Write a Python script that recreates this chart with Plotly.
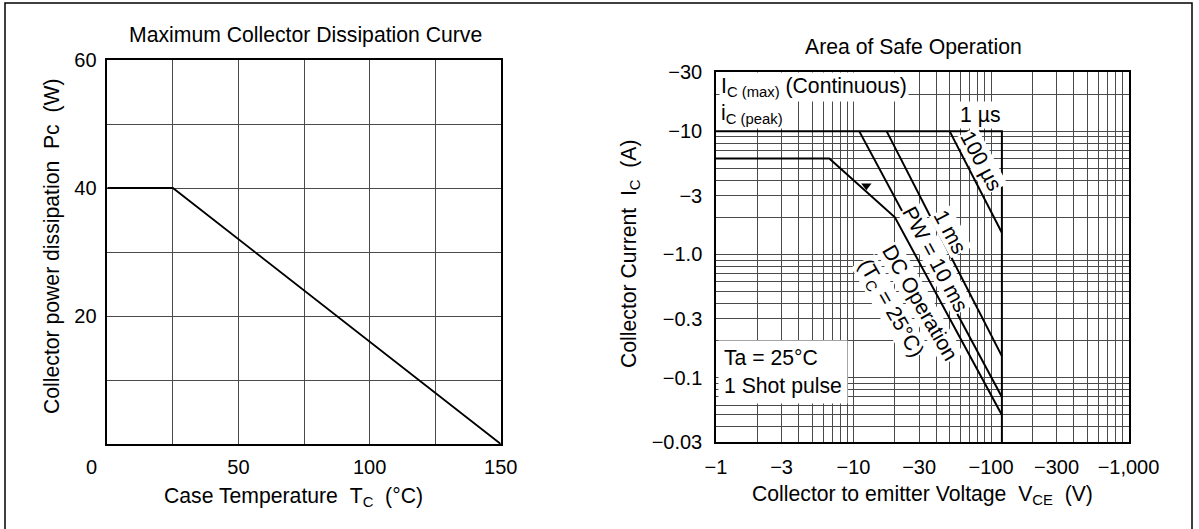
import plotly.graph_objects as go

W, H = 1199, 529
FONT = "Liberation Sans, Arial, Helvetica, sans-serif"

# ---------------- data ----------------
# Left chart: Maximum Collector Dissipation Curve
case_temp = [0, 25, 150]          # Tc (°C)
power_diss = [40, 40, 0]          # Pc (W)

left_x_ticks = [0, 25, 50, 75, 100, 125, 150]
left_x_labels = ["", "", "50", "", "100", "", "150"]
left_y_ticks = [0, 10, 20, 30, 40, 50, 60]
left_y_labels = ["", "", "20", "", "40", "", "60"]

# Right chart: Area of Safe Operation (magnitudes; sign shown in labels)
dc_v = [1, 6.67, 20, 120]
dc_i = [6, 6, 2, 0.05]
pw10ms_v = [11, 120]
pw10ms_i = [10, 0.07]
pw1ms_v = [17.4, 120]
pw1ms_i = [10, 0.15]
pw100us_v = [50, 120]
pw100us_i = [10, 1.5]
pw1us_v = [1, 120, 120]
pw1us_i = [10, 10, 0.03]
arrow_v = [12.4]
arrow_i = [3.6]

right_x_ticks = [1, 2, 3, 4, 5, 6, 7, 8, 9,
                 10, 20, 30, 40, 50, 60, 70, 80, 90,
                 100, 200, 300, 400, 500, 600, 700, 800, 900, 1000]
right_x_labels = ["−1", "", "−3", "", "", "", "", "", "",
                  "−10", "", "−30", "", "", "", "", "", "",
                  "−100", "", "−300", "", "", "", "", "", "", "−1,000"]
right_y_ticks = [0.03, 0.04, 0.05, 0.06, 0.07, 0.08, 0.09,
                 0.1, 0.2, 0.3, 0.4, 0.5, 0.6, 0.7, 0.8, 0.9,
                 1, 2, 3, 4, 5, 6, 7, 8, 9,
                 10, 20, 30]
right_y_labels = ["−0.03", "", "", "", "", "", "",
                  "−0.1", "", "−0.3", "", "", "", "", "", "",
                  "−1.0", "", "−3", "", "", "", "", "", "",
                  "−10", "", "−30"]


def px(x):
    return x / W


def py(y):
    return 1 - y / H


fig = go.Figure()

line_style = dict(color="black", width=2)

fig.add_trace(go.Scatter(x=case_temp, y=power_diss, mode="lines",
                         line=dict(color="black", width=1.8),
                         xaxis="x", yaxis="y", showlegend=False))

for xs, ys in [(pw1us_v, pw1us_i), (dc_v, dc_i), (pw10ms_v, pw10ms_i),
               (pw1ms_v, pw1ms_i), (pw100us_v, pw100us_i)]:
    fig.add_trace(go.Scatter(x=xs, y=ys, mode="lines", line=line_style,
                             xaxis="x2", yaxis="y2", showlegend=False))

fig.add_trace(go.Scatter(x=arrow_v, y=arrow_i, mode="markers",
                         marker=dict(symbol="triangle-down", size=9, color="black"),
                         xaxis="x2", yaxis="y2", showlegend=False))

grid_col = "#4a4a4a"
axis_common = dict(showline=True, linecolor="black", linewidth=1.5, mirror=True,
                   showgrid=True, gridcolor=grid_col, gridwidth=1, zeroline=False,
                   automargin=False,
                   ticks="", tickfont=dict(family=FONT, size=20, color="black"))

fig.update_layout(
    width=W, height=H,
    margin=dict(l=0, r=0, t=0, b=0, autoexpand=False),
    paper_bgcolor="white", plot_bgcolor="white",
    font=dict(family=FONT, size=20, color="black"),
    xaxis=dict(domain=[px(107.3), px(500.7)], range=[0, 150],
               tickmode="array", tickvals=left_x_ticks, ticktext=left_x_labels,
               ticklabelstandoff=4, anchor="y", **axis_common),
    yaxis=dict(domain=[py(444), py(60)], range=[0, 60],
               tickmode="array", tickvals=left_y_ticks, ticktext=left_y_labels,
               ticklabelstandoff=5, anchor="x", **axis_common),
    xaxis2=dict(domain=[px(716), px(1128.5)], type="log", range=[0, 3],
                tickmode="array", tickvals=right_x_ticks, ticktext=right_x_labels,
                ticklabelstandoff=6, anchor="y2", **axis_common),
    yaxis2=dict(domain=[py(442.3), py(72.3)], type="log",
                range=[-1.5228787, 1.4771213],
                tickmode="array", tickvals=right_y_ticks, ticktext=right_y_labels,
                ticklabelstandoff=8, anchor="x2", **axis_common),
)

ann = []


def add_text(text, x, y, xanchor="center", yanchor="middle", size=21.2,
             angle=0, bg=None, align="center", pad=1):
    d = dict(text=text, x=px(x), y=py(y), xref="paper", yref="paper",
             xanchor=xanchor, yanchor=yanchor, showarrow=False, textangle=angle,
             align=align, borderpad=pad,
             font=dict(family=FONT, size=size, color="black"))
    if bg:
        d["bgcolor"] = bg
    ann.append(d)


# titles
add_text("Maximum Collector Dissipation Curve", 126.7, 35, xanchor="left")
add_text("Area of Safe Operation", 803, 47, xanchor="left")

# axis titles
add_text("Collector power dissipation\u00a0\u00a0Pc\u00a0\u00a0(W)", 52, 246, angle=-90)
add_text("Case Temperature\u00a0\u00a0T<sub>C</sub>\u00a0\u00a0(°C)", 161.7, 497, xanchor="left")
add_text("Collector Current\u00a0\u00a0I<sub>C</sub>\u00a0\u00a0(A)", 630, 254, angle=-90)
add_text("Collector to emitter Voltage\u00a0\u00a0V<sub>CE</sub>\u00a0\u00a0(V)", 750, 495, xanchor="left")

# corner zero label of left chart
add_text("0", 91.7, 467, size=20)

# labels in safe operation area
add_text("I<sub>C (max)</sub> (Continuous)", 719, 87, xanchor="left", bg="white")
add_text("i<sub>C (peak)</sub>", 719, 114, xanchor="left", bg="white")
add_text("1 µs", 979.5, 115, bg="white")
add_text("100 µs", 981, 161, angle=62, bg="white", pad=0)
add_text("1 ms", 950, 232, angle=62, bg="white", pad=0)
add_text("PW = 10 ms", 936, 259, angle=62, bg="white", pad=0)
add_text("DC Operation", 920, 303, angle=60, bg="white", pad=0)
add_text("(T<sub>C</sub> = 25°C)", 890, 308, angle=60, bg="white", pad=0)
add_text("Ta = 25°C<br>1 Shot pulse", 718, 372, xanchor="left", bg="white",
         align="left", pad=5)

fig.update_layout(annotations=ann)

fig.add_shape(type="rect", xref="paper", yref="paper",
              x0=px(5), x1=px(1192), y0=py(3), y1=py(560),
              line=dict(color="black", width=1.5), fillcolor="rgba(0,0,0,0)")

fig.write_html("out.html", config={"displayModeBar": False},
               post_script="document.body.style.margin='0';document.body.style.overflow='hidden';")
